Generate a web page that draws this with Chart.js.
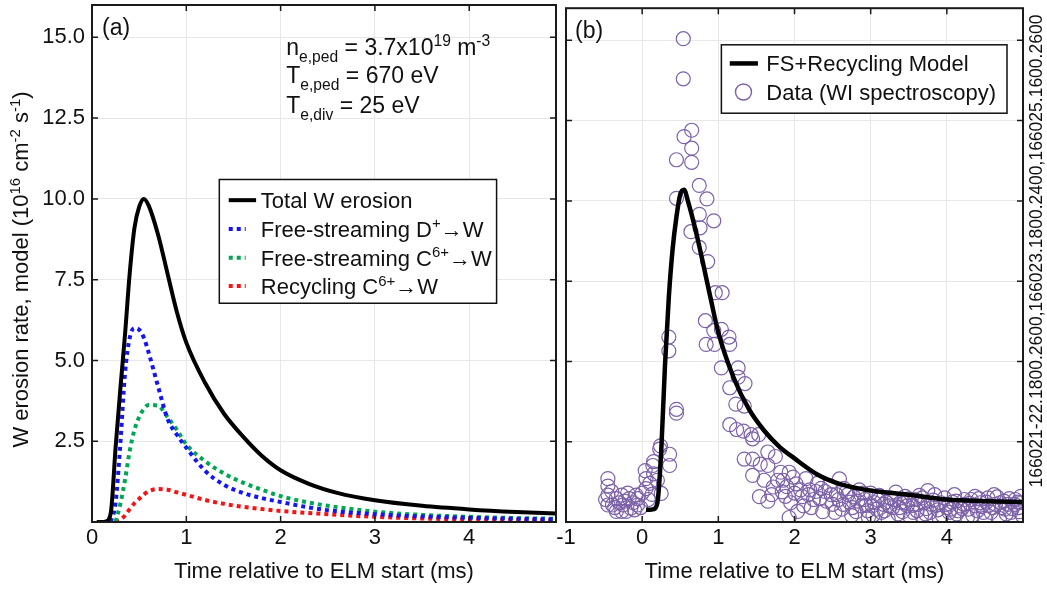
<!DOCTYPE html>
<html lang="en">
<head>
<meta charset="UTF-8">
<title>W erosion rate during ELMs</title>
<script src="https://cdn.jsdelivr.net/npm/chart.js"></script>
<style>
  body { margin: 0; background: #fff; }
  #wrap { position: relative; width: 1047px; height: 590px; }
  canvas { position: absolute; top: 0; }
  #chartA { left: 0; }
  #chartB { left: 530px; }
</style>
</head>
<body>
<div id="wrap">
  <canvas id="chartA" width="560" height="590"></canvas>
  <canvas id="chartB" width="517" height="590"></canvas>
</div>
<script>
// axis ticks
const yTicks = [0, 2.5, 5, 7.5, 10, 12.5, 15];
const xTicksA = [0, 1, 2, 3, 4];
const xTicksB = [-1, 0, 1, 2, 3, 4];

// panel (a): model contributions (ms, 1e16 cm^-2 s^-1)
const timeA  = [0.05, 0.1, 0.15, 0.2, 0.25, 0.3, 0.35, 0.4, 0.45, 0.5, 0.55, 0.6, 0.7, 0.8, 0.9, 1.0, 1.2, 1.4, 1.6, 1.8, 2.0, 2.3, 2.6, 3.0, 3.5, 4.0, 4.5, 4.92];
const totalA = [0, 0, 0.02, 0.3, 2.3, 4.1, 5.8, 7.7, 9.1, 9.75, 10.0, 9.8, 8.9, 7.7, 6.5, 5.55, 4.3, 3.35, 2.65, 2.05, 1.6, 1.18, 0.9, 0.67, 0.5, 0.39, 0.31, 0.26];
const dPlusA = [null, null, null, 0, 0.6, 2.4, 4.6, 5.7, 6.0, 5.95, 5.7, 5.25, 4.2, 3.2, 2.7, 2.3, 1.58, 1.15, 0.9, 0.74, 0.62, 0.45, 0.33, 0.24, 0.17, 0.13, 0.1, 0.08];
const cFreeA = [null, null, null, null, 0, 0.55, 1.3, 2.2, 2.85, 3.25, 3.5, 3.62, 3.6, 3.25, 2.85, 2.4, 1.88, 1.5, 1.22, 1.0, 0.8, 0.6, 0.46, 0.32, 0.22, 0.16, 0.12, 0.1];
const cRecA  = [null, null, null, null, 0, 0.07, 0.2, 0.4, 0.58, 0.72, 0.85, 0.95, 1.02, 1.0, 0.92, 0.84, 0.68, 0.56, 0.47, 0.4, 0.34, 0.28, 0.22, 0.16, 0.11, 0.08, 0.06, 0.05];

// panel (b): FS+recycling model
const timeB  = [0.05, 0.1, 0.15, 0.2, 0.25, 0.3, 0.35, 0.4, 0.45, 0.5, 0.55, 0.6, 0.7, 0.8, 0.9, 1.0, 1.2, 1.4, 1.6, 1.8, 2.0, 2.3, 2.6, 3.0, 3.5, 4.0, 4.5, 5.0];
const modelB = [0.38, 0.38, 0.4, 0.6, 2.2, 4.9, 7.0, 8.5, 9.5, 10.2, 10.35, 10.0, 9.1, 8.05, 6.95, 5.9, 4.5, 3.52, 2.85, 2.35, 1.98, 1.48, 1.18, 0.98, 0.85, 0.7, 0.65, 0.62];

// panel (b): WI spectroscopy data, [t, rate]
const dataPre = [[-0.45, 1.35], [-0.45, 1.12], [-0.45, 0.84], [-0.45, 0.53], [-0.39, 0.53], [-0.34, 0.73], [-0.27, 0.84], [-0.25, 0.53],
  [-0.27, 0.33], [-0.17, 0.73], [-0.15, 0.43], [-0.06, 0.73], [-0.06, 0.53], [-0.34, 0.33], [-0.21, 0.33], [-0.08, 0.84],
  [-0.4, 0.95], [-0.3, 0.6], [-0.12, 0.6], [-0.02, 0.45], [-0.36, 0.45], [-0.23, 0.65], [-0.1, 0.38], [-0.48, 0.7], [-0.19, 0.9]];
const dataRise = [[0.24, 2.37], [0.23, 2.27], [0.36, 2.11], [0.36, 1.76], [0.15, 1.88], [0.14, 1.76], [0.04, 1.6], [0.05, 1.35],
  [0.05, 1.04], [0.15, 1.5], [0.25, 0.89], [0.13, 0.86], [0.2, 1.3], [0.1, 1.2], [0.0, 0.9], [0.08, 0.7],
  [0.35, 5.76], [0.35, 5.33], [0.45, 3.51], [0.45, 3.39]];
const dataPeak = [[0.54, 15.05], [0.54, 13.8], [0.65, 12.2], [0.55, 12.0], [0.65, 11.64], [0.45, 11.28], [0.65, 11.2], [0.75, 10.48],
  [0.45, 10.08], [0.85, 10.06], [0.75, 9.58], [0.94, 9.38], [0.64, 9.04], [0.76, 9.16], [0.75, 8.55], [0.86, 8.11],
  [0.96, 7.14], [1.05, 7.14], [0.83, 6.27], [1.04, 6.0], [0.94, 5.96], [1.14, 5.76], [0.84, 5.53], [0.95, 5.53],
  [1.15, 5.53], [1.04, 4.8], [1.26, 4.8], [1.26, 4.51], [1.35, 4.31], [1.15, 4.18], [1.23, 3.67], [1.34, 3.61],
  [1.15, 3.03], [1.24, 2.88], [1.33, 2.83], [1.43, 2.72], [1.45, 2.59], [1.53, 2.72]];
const dataDecay = [[1.34, 1.96], [1.45, 1.96], [1.65, 2.18], [1.75, 2.04], [1.55, 1.8], [1.45, 1.45], [1.65, 1.76], [1.54, 0.79],
  [1.65, 0.65], [1.72, 1.09], [1.82, 1.55], [1.93, 1.55], [1.84, 0.94], [2.02, 1.19], [2.04, 0.33], [1.93, 0.14],
  [2.15, 1.35], [2.1, 0.79], [1.6, 1.3], [1.78, 1.3], [1.9, 1.1], [2.0, 0.9], [1.7, 0.85], [1.95, 0.6],
  [2.2, 1.0], [2.25, 0.7], [1.85, 1.3], [1.98, 1.4], [2.08, 1.0], [2.12, 0.5], [2.18, 0.85], [1.88, 0.8]];
const dataTail = [[2.3, 1.2], [2.33, 0.73], [2.37, 0.32], [2.4, 0.95], [2.46, 1.14], [2.5, 0.55], [2.55, 0.85], [2.59, 1.34],
  [2.62, 0.4], [2.65, 1.05], [2.68, 0.93], [2.72, 0.62], [2.75, 0.2], [2.78, 0.78], [2.81, 0.32], [2.85, 1.0],
  [2.88, 0.5], [2.92, 0.7], [2.94, 0.52], [2.97, 0.15], [3.0, 0.9], [3.03, 0.21], [3.05, 0.6], [3.08, 0.4],
  [3.11, 0.83], [3.14, 0.3], [3.17, 0.55], [3.2, 0.62], [3.23, 0.1], [3.26, 0.75], [3.29, 0.45], [3.33, 0.93],
  [3.36, 0.25], [3.39, 0.6], [3.42, 0.32], [3.45, 0.8], [3.48, 0.5], [3.52, 0.15], [3.55, 0.52], [3.58, 0.7],
  [3.61, 0.35], [3.64, 0.83], [3.67, 0.2], [3.7, 0.6], [3.73, 0.42], [3.75, 0.98], [3.78, 0.3], [3.82, 0.68],
  [3.86, 0.52], [3.9, 0.12], [3.94, 0.21], [3.97, 0.75], [4.0, 0.45], [4.03, 0.3], [4.07, 0.62], [4.1, 0.85],
  [4.13, 0.25], [4.17, 0.5], [4.2, 0.42], [4.23, 0.7], [4.27, 0.15], [4.3, 0.58], [4.34, 0.21], [4.37, 0.8],
  [4.4, 0.35], [4.42, 0.73], [4.46, 0.48], [4.5, 0.12], [4.52, 0.62], [4.55, 0.52], [4.58, 0.3], [4.62, 0.85],
  [4.66, 0.78], [4.69, 0.11], [4.72, 0.45], [4.75, 0.65], [4.78, 0.25], [4.82, 0.73], [4.86, 0.42], [4.89, 0.55],
  [4.93, 0.62], [4.95, 0.32], [4.97, 0.8], [4.99, 0.2],
  [2.22, 0.45], [2.28, 0.95], [2.35, 1.05], [2.42, 0.65], [2.48, 0.85], [2.53, 0.3], [2.58, 0.7], [2.64, 0.55],
  [2.7, 0.85], [2.76, 0.45], [2.83, 0.65], [2.9, 0.9], [2.96, 0.35],
  [3.02, 0.5], [3.1, 0.68], [3.18, 0.35], [3.25, 0.5], [3.31, 0.7], [3.38, 0.45], [3.44, 0.6], [3.5, 0.72],
  [3.56, 0.3], [3.62, 0.55], [3.68, 0.75], [3.72, 0.25], [3.8, 0.55], [3.84, 0.85], [3.88, 0.38], [3.92, 0.6],
  [3.99, 0.55], [4.05, 0.4], [4.12, 0.65], [4.15, 0.35], [4.22, 0.55], [4.28, 0.4], [4.32, 0.7], [4.38, 0.5],
  [4.44, 0.6], [4.48, 0.3], [4.54, 0.75], [4.6, 0.45], [4.64, 0.55], [4.7, 0.6], [4.76, 0.4], [4.8, 0.55],
  [4.84, 0.3], [4.9, 0.7], [4.94, 0.45], [4.98, 0.6]];

const FONT = '"Liberation Sans", Arial, Helvetica, sans-serif';
const FS = 22;
const BLUE = '#1414f5', GREEN = '#00a651', RED = '#f51414', PURPLE = '#7d62a8';
const GRID = '#e8e8e8';

Chart.defaults.font.family = FONT;
Chart.defaults.font.size = FS;
Chart.defaults.color = '#111';

function pts(xs, ys) {
    return xs.map((x, i) => ({ x: x, y: ys[i] })).filter(p => p.y !== null);
}
function pairs(list) {
    return list.map(p => ({ x: p[0], y: p[1] }));
}

// text with sub/superscripts: mode 1 = sup, -1 = sub
function richWidth(ctx, parts, size) {
    let w = 0;
    parts.forEach(([txt, mode]) => {
        ctx.font = (mode ? size * 0.68 : size) + 'px ' + FONT;
        w += ctx.measureText(txt).width;
    });
    return w;
}
function drawRich(ctx, parts, x, y, size) {
    let cx = x;
    parts.forEach(([txt, mode]) => {
        ctx.font = (mode ? size * 0.68 : size) + 'px ' + FONT;
        const dy = mode === 1 ? -size * 0.38 : (mode === -1 ? size * 0.3 : 0);
        ctx.fillText(txt, cx, y + dy);
        cx += ctx.measureText(txt).width;
    });
}

function frameAndTicks(chart, xt, yt) {
    const ctx = chart.ctx, a = chart.chartArea;
    const xs = chart.scales.x, ys = chart.scales.y;
    ctx.save();
    ctx.strokeStyle = '#1a1a1a';
    ctx.lineWidth = 1.5;
    ctx.beginPath();
    xt.forEach(v => {
        const px = xs.getPixelForValue(v);
        if (px <= a.left + 1 || px >= a.right - 1) return;
        ctx.moveTo(px, a.bottom); ctx.lineTo(px, a.bottom - 6);
        ctx.moveTo(px, a.top); ctx.lineTo(px, a.top + 6);
    });
    yt.forEach(v => {
        const py = ys.getPixelForValue(v);
        if (py >= a.bottom - 1 || py <= a.top + 1) return;
        ctx.moveTo(a.left, py); ctx.lineTo(a.left + 6, py);
        ctx.moveTo(a.right, py); ctx.lineTo(a.right - 6, py);
    });
    ctx.stroke();
    ctx.lineWidth = 2;
    ctx.strokeRect(a.left, a.top, a.right - a.left, a.bottom - a.top);
    ctx.restore();
}

function yScale(width, showLabels) {
    return {
        type: 'linear', min: 0, max: 16,
        afterBuildTicks: s => { s.ticks = yTicks.map(v => ({ value: v })); },
        afterFit: s => { s.width = width; s.paddingTop = 0; s.paddingBottom = 0; },
        grid: { color: GRID, lineWidth: 1, drawTicks: false },
        border: { display: false },
        ticks: { display: showLabels, padding: 7, callback: v => (v === 0 ? '' : v.toFixed(1)) }
    };
}
function xScale(min, max, ticks) {
    return {
        type: 'linear', min: min, max: max,
        afterBuildTicks: s => { s.ticks = ticks.map(v => ({ value: v })); },
        afterFit: s => { s.height = 68; s.paddingLeft = 0; s.paddingRight = 0; },
        grid: { color: GRID, lineWidth: 1, drawTicks: false },
        border: { display: false },
        ticks: { padding: 3, autoSkip: false, maxRotation: 0, callback: v => String(v) },
        title: { display: true, text: 'Time relative to ELM start (ms)', padding: { top: 0, bottom: 5 } }
    };
}

const legendA = [
    { parts: [['Total W erosion', 0]], color: '#000', dash: [] },
    { parts: [['Free-streaming D', 0], ['+', 1], ['\u2192W', 0]], color: BLUE, dash: [4, 4] },
    { parts: [['Free-streaming C', 0], ['6+', 1], ['\u2192W', 0]], color: GREEN, dash: [4, 4] },
    { parts: [['Recycling C', 0], ['6+', 1], ['\u2192W', 0]], color: RED, dash: [4, 4] }
];
const notesA = [
    [['n', 0], ['e,ped', -1], [' = 3.7x10', 0], ['19', 1], [' m', 0], ['-3', 1]],
    [['T', 0], ['e,ped', -1], [' = 670 eV', 0]],
    [['T', 0], ['e,div', -1], [' = 25 eV', 0]]
];
const yTitle = [['W erosion rate, model (10', 0], ['16', 1], [' cm', 0], ['-2', 1], [' s', 0], ['-1', 1], [')', 0]];

const decorA = {
    id: 'decorA',
    afterDraw(chart) {
        const ctx = chart.ctx, a = chart.chartArea;
        const xs = chart.scales.x, ys = chart.scales.y;
        frameAndTicks(chart, xTicksA, yTicks);
        ctx.save();
        ctx.fillStyle = '#111';
        ctx.textBaseline = 'alphabetic';
        ctx.textAlign = 'left';

        ctx.font = '23px ' + FONT;
        ctx.fillText('(a)', a.left + 10, a.top + 30);

        // parameter annotation
        const nx = xs.getPixelForValue(2.06);
        [14.45, 13.58, 12.65].forEach((v, i) => drawRich(ctx, notesA[i], nx, ys.getPixelForValue(v), 23));

        // legend
        const bx1 = xs.getPixelForValue(1.35), bx2 = xs.getPixelForValue(4.29);
        const by1 = ys.getPixelForValue(10.6), by2 = ys.getPixelForValue(6.77);
        ctx.fillStyle = '#fff';
        ctx.fillRect(bx1, by1, bx2 - bx1, by2 - by1);
        ctx.strokeStyle = '#111';
        ctx.lineWidth = 1.5;
        ctx.strokeRect(bx1, by1, bx2 - bx1, by2 - by1);
        const rows = [9.96, 9.07, 8.18, 7.3];
        legendA.forEach((e, i) => {
            const py = ys.getPixelForValue(rows[i]);
            ctx.strokeStyle = e.color;
            ctx.lineWidth = 4;
            ctx.setLineDash(e.dash);
            ctx.beginPath();
            ctx.moveTo(xs.getPixelForValue(1.45), py);
            ctx.lineTo(xs.getPixelForValue(e.dash.length ? 1.63 : 1.74), py);
            ctx.stroke();
            ctx.setLineDash([]);
            ctx.fillStyle = '#111';
            drawRich(ctx, e.parts, xs.getPixelForValue(1.79), py + FS * 0.36, FS);
        });

        // rotated y title
        const w = richWidth(ctx, yTitle, FS);
        ctx.translate(28, (a.top + a.bottom) / 2 + 6);
        ctx.rotate(-Math.PI / 2);
        ctx.fillStyle = '#111';
        drawRich(ctx, yTitle, -w / 2, 0, FS);
        ctx.restore();
    }
};

const decorB = {
    id: 'decorB',
    afterDraw(chart) {
        const ctx = chart.ctx, a = chart.chartArea;
        const xs = chart.scales.x, ys = chart.scales.y;
        frameAndTicks(chart, xTicksB, yTicks);
        ctx.save();
        ctx.fillStyle = '#111';
        ctx.textAlign = 'left';
        ctx.textBaseline = 'alphabetic';
        ctx.font = '23px ' + FONT;
        ctx.fillText('(b)', a.left + 9, a.top + 30);

        // legend
        const bx1 = xs.getPixelForValue(1.04), bx2 = xs.getPixelForValue(4.79);
        const by1 = ys.getPixelForValue(14.86), by2 = ys.getPixelForValue(12.73);
        ctx.fillStyle = '#fff';
        ctx.fillRect(bx1, by1, bx2 - bx1, by2 - by1);
        ctx.strokeStyle = '#111';
        ctx.lineWidth = 1.5;
        ctx.strokeRect(bx1, by1, bx2 - bx1, by2 - by1);
        const r1 = ys.getPixelForValue(14.28), r2 = ys.getPixelForValue(13.39);
        ctx.strokeStyle = '#000';
        ctx.lineWidth = 4.5;
        ctx.beginPath();
        ctx.moveTo(xs.getPixelForValue(1.15), r1);
        ctx.lineTo(xs.getPixelForValue(1.52), r1);
        ctx.stroke();
        ctx.strokeStyle = PURPLE;
        ctx.lineWidth = 1.4;
        ctx.beginPath();
        ctx.arc(xs.getPixelForValue(1.33), r2, 8, 0, Math.PI * 2);
        ctx.stroke();
        ctx.fillStyle = '#111';
        ctx.font = FS + 'px ' + FONT;
        const tx = xs.getPixelForValue(1.63);
        ctx.fillText('FS+Recycling Model', tx, r1 + FS * 0.36);
        ctx.fillText('Data (WI spectroscopy)', tx, r2 + FS * 0.36);

        // shot label on the right
        ctx.translate(507, (a.top + a.bottom) / 2 - 14);
        ctx.rotate(-Math.PI / 2);
        ctx.textAlign = 'center';
        ctx.textBaseline = 'middle';
        ctx.font = '17.5px ' + FONT;
        ctx.fillText('166021-22.1800.2600,166023.1800.2400,166025.1600.2600', 0, 0);
        ctx.restore();
    }
};

new Chart(document.getElementById('chartA'), {
    type: 'line',
    data: {
        datasets: [
            { label: 'Total W erosion', data: pts(timeA, totalA), borderColor: '#000', borderWidth: 4,
              pointRadius: 0, cubicInterpolationMode: 'monotone' },
            { label: 'Free-streaming D+', data: pts(timeA, dPlusA), borderColor: BLUE, borderWidth: 4,
              borderDash: [4, 4], pointRadius: 0, cubicInterpolationMode: 'monotone' },
            { label: 'Free-streaming C6+', data: pts(timeA, cFreeA), borderColor: GREEN, borderWidth: 4,
              borderDash: [4, 4], pointRadius: 0, cubicInterpolationMode: 'monotone' },
            { label: 'Recycling C6+', data: pts(timeA, cRecA), borderColor: RED, borderWidth: 4,
              borderDash: [4, 4], pointRadius: 0, cubicInterpolationMode: 'monotone' }
        ]
    },
    options: {
        responsive: false,
        animation: false,
        devicePixelRatio: 1,
        layout: { padding: { top: 5, right: 4, left: 0, bottom: 0 } },
        plugins: { legend: { display: false }, tooltip: { enabled: false } },
        scales: { x: xScale(0, 4.92, xTicksA), y: yScale(92, true) }
    },
    plugins: [decorA]
});

new Chart(document.getElementById('chartB'), {
    type: 'line',
    data: {
        datasets: [
            { label: 'FS+Recycling Model', data: pts(timeB, modelB), borderColor: '#000', borderWidth: 4.5,
              pointRadius: 0, cubicInterpolationMode: 'monotone' },
            { type: 'scatter', label: 'Data (WI spectroscopy)',
              data: pairs(dataPre.concat(dataRise, dataPeak, dataDecay, dataTail)),
              showLine: false, pointRadius: 7, pointBorderWidth: 1.2,
              pointBorderColor: PURPLE, pointBackgroundColor: 'rgba(0,0,0,0)' }
        ]
    },
    options: {
        responsive: false,
        animation: false,
        devicePixelRatio: 1,
        layout: { padding: { top: 5, right: 24, left: 0, bottom: 0 } },
        plugins: { legend: { display: false }, tooltip: { enabled: false } },
        scales: { x: xScale(-1, 5, xTicksB), y: yScale(36, false) }
    },
    plugins: [decorB]
});
</script>
</body>
</html>
